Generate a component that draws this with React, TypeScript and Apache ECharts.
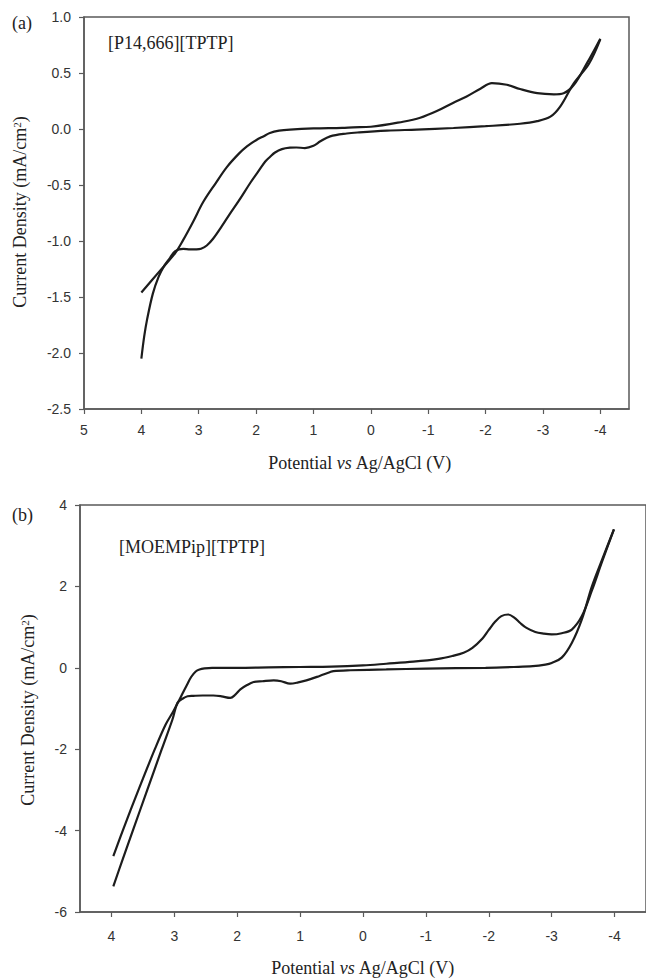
import React, { useEffect, useRef } from "react";
import * as echarts from "echarts";

// ---- Panel (a) [P14,666][TPTP] ----
const aForwardPotential = [4.0, 3.7, 3.41, 3.27, 3.1, 2.92, 2.7, 2.51, 2.3, 2.16, 2.0, 1.85, 1.76, 1.6, 1.41, 1.0, 0.5, 0.31, 0.0, -0.56, -0.86, -1.15, -1.44, -1.67, -1.91, -2.11, -2.37, -2.6, -2.9, -3.19, -3.36, -3.54, -3.77, -4.0];
const aForwardCurrent = [-1.46, -1.28, -1.107, -0.99, -0.83, -0.65, -0.48, -0.34, -0.22, -0.155, -0.1, -0.06, -0.035, -0.015, -0.005, 0.005, 0.01, 0.015, 0.02, 0.065, 0.1, 0.16, 0.235, 0.29, 0.36, 0.41, 0.395, 0.357, 0.32, 0.31, 0.32, 0.395, 0.59, 0.806];

const aReversePotential = [-4.0, -3.8, -3.54, -3.3, -3.13, -2.9, -2.6, -2.0, -1.44, -0.8, -0.28, 0.2, 0.42, 0.71, 0.88, 1.0, 1.15, 1.3, 1.41, 1.55, 1.67, 1.76, 1.84, 1.95, 2.1, 2.3, 2.46, 2.6, 2.75, 2.86, 2.96, 3.04, 3.15, 3.27, 3.41, 3.5, 3.6, 3.7, 3.8, 3.9, 3.95, 4.0];
const aReverseCurrent = [0.8, 0.58, 0.41, 0.2, 0.11, 0.07, 0.047, 0.025, 0.009, -0.005, -0.015, -0.03, -0.04, -0.066, -0.11, -0.15, -0.17, -0.165, -0.167, -0.18, -0.21, -0.25, -0.29, -0.37, -0.48, -0.64, -0.76, -0.87, -0.98, -1.04, -1.07, -1.075, -1.075, -1.07, -1.09, -1.15, -1.22, -1.32, -1.47, -1.7, -1.85, -2.05];

// ---- Panel (b) [MOEMPip][TPTP] ----
const bForwardPotential = [3.97, 3.82, 3.57, 3.31, 3.14, 3.02, 2.95, 2.88, 2.8, 2.73, 2.66, 2.6, 2.52, 2.4, 2.0, 1.5, 1.0, 0.5, 0.0, -0.37, -0.8, -1.2, -1.42, -1.6, -1.74, -1.9, -2.0, -2.1, -2.2, -2.31, -2.4, -2.5, -2.6, -2.74, -2.87, -3.0, -3.16, -3.32, -3.48, -3.64, -3.8, -3.99];
const bForwardCurrent = [-4.63, -4.0, -3.0, -2.0, -1.4, -1.08, -0.88, -0.66, -0.42, -0.22, -0.09, -0.04, -0.015, 0.0, 0.0, 0.01, 0.02, 0.03, 0.06, 0.1, 0.15, 0.22, 0.29, 0.37, 0.49, 0.72, 0.93, 1.13, 1.27, 1.31, 1.24, 1.1, 0.98, 0.88, 0.84, 0.82, 0.85, 0.94, 1.27, 1.9, 2.6, 3.4];

const bReversePotential = [-3.99, -3.8, -3.64, -3.48, -3.32, -3.16, -3.0, -2.9, -2.7, -2.4, -1.95, -1.0, -0.37, 0.2, 0.47, 0.53, 0.69, 0.9, 1.03, 1.16, 1.3, 1.42, 1.6, 1.74, 1.85, 1.95, 2.03, 2.11, 2.25, 2.38, 2.55, 2.7, 2.79, 2.87, 2.95, 3.03, 3.2, 3.43, 3.66, 3.82, 3.97];
const bReverseCurrent = [3.4, 2.65, 2.0, 1.19, 0.61, 0.25, 0.12, 0.08, 0.04, 0.02, 0.0, -0.02, -0.04, -0.06, -0.08, -0.11, -0.2, -0.31, -0.36, -0.39, -0.33, -0.31, -0.33, -0.35, -0.43, -0.53, -0.66, -0.74, -0.7, -0.68, -0.68, -0.69, -0.7, -0.76, -0.86, -1.27, -2.0, -3.0, -4.0, -4.7, -5.37];

const aTickValues = [5, 4, 3, 2, 1, 0, -1, -2, -3, -4];
const bTickValues = [4, 3, 2, 1, 0, -1, -2, -3, -4];

const zip = (xs: number[], ys: number[]) => xs.map((x, i) => [x, ys[i]]);

const AXIS_COLOR = "#5a5a5a";
const LINE_COLOR = "#1c1c1c";
const SANS = "'Liberation Sans', Arial, sans-serif";
const SERIF = "'Liberation Serif', 'Times New Roman', serif";

export default function App() {
  const ref = useRef<HTMLDivElement>(null);

  useEffect(() => {
    if (!ref.current) return;
    const chart = echarts.init(ref.current, null, { renderer: "svg" });

    const axisCommon = {
      type: "value" as const,
      splitLine: { show: false },
      axisLine: { show: true, onZero: false, lineStyle: { color: AXIS_COLOR, width: 1.5 } },
      axisTick: { show: true, inside: false, length: 5, lineStyle: { color: AXIS_COLOR, width: 1.2 } },
    };
    const labelCommon = { color: "#333", fontFamily: SANS, fontSize: 14 };

    const lineSeries = (data: number[][], xi: number) => ({
      type: "line" as const,
      xAxisIndex: xi,
      yAxisIndex: xi,
      data,
      showSymbol: false,
      smooth: 0.35,
      lineStyle: { color: LINE_COLOR, width: 2.2 },
      silent: true,
    });

    const yTitle = (x: number, y: number) => ({
      type: "text",
      x,
      y,
      rotation: Math.PI / 2,
      style: {
        text: "Current Density (mA/cm{sup|2})",
        fontFamily: SERIF,
        fontSize: 18,
        fill: "#222",
        align: "center",
        verticalAlign: "middle",
        rich: {
          sup: { fontSize: 11, fontFamily: SERIF, fill: "#222", verticalAlign: "top", padding: [0, 0, 6, 0] },
        },
      },
    });

    const xTitle = (x: number, y: number) => ({
      type: "text",
      x,
      y,
      style: {
        text: "Potential {i|vs} Ag/AgCl (V)",
        fontFamily: SERIF,
        fontSize: 18,
        fill: "#222",
        align: "center",
        verticalAlign: "middle",
        rich: { i: { fontStyle: "italic", fontFamily: SERIF, fontSize: 18, fill: "#222" } },
      },
    });

    const plainText = (x: number, y: number, text: string) => ({
      type: "text",
      x,
      y,
      style: { text, fontFamily: SERIF, fontSize: 18, fill: "#222", align: "left", verticalAlign: "middle" },
    });

    chart.setOption({
      animation: false,
      backgroundColor: "#fff",
      grid: [
        { left: 84, top: 17, width: 545, height: 392, show: true, borderColor: AXIS_COLOR, borderWidth: 1.5, backgroundColor: "transparent", containLabel: false },
        { left: 80, top: 505, width: 567, height: 407, show: true, borderColor: AXIS_COLOR, borderWidth: 1.5, backgroundColor: "transparent", containLabel: false },
      ],
      xAxis: [
        {
          ...axisCommon,
          gridIndex: 0,
          min: -4.5,
          max: 5,
          inverse: true,
          axisLabel: { ...labelCommon, margin: 14, customValues: aTickValues },
          axisTick: { ...axisCommon.axisTick, customValues: aTickValues },
        },
        {
          ...axisCommon,
          gridIndex: 1,
          min: -4.5,
          max: 4.5,
          inverse: true,
          axisLabel: { ...labelCommon, margin: 17, customValues: bTickValues },
          axisTick: { ...axisCommon.axisTick, customValues: bTickValues },
        },
      ],
      yAxis: [
        {
          ...axisCommon,
          gridIndex: 0,
          min: -2.5,
          max: 1,
          interval: 0.5,
          axisLabel: { ...labelCommon, margin: 13, formatter: (v: number) => v.toFixed(1) },
        },
        {
          ...axisCommon,
          gridIndex: 1,
          min: -6,
          max: 4,
          interval: 2,
          axisLabel: { ...labelCommon, margin: 13 },
        },
      ],
      series: [
        lineSeries(zip(aForwardPotential, aForwardCurrent), 0),
        lineSeries(zip(aReversePotential, aReverseCurrent), 0),
        lineSeries(zip(bForwardPotential, bForwardCurrent), 1),
        lineSeries(zip(bReversePotential, bReverseCurrent), 1),
      ],
      graphic: [
        plainText(12, 23, "(a)"),
        plainText(108, 43, "[P14,666][TPTP]"),
        yTitle(20, 212),
        xTitle(360, 463),
        plainText(12, 515, "(b)"),
        plainText(119, 547, "[MOEMPip][TPTP]"),
        yTitle(28, 710),
        xTitle(363, 968),
      ],
    });

    return () => chart.dispose();
  }, []);

  return (
    <div
      ref={ref}
      style={{ position: "absolute", left: 0, top: 0, width: 646, height: 979, background: "#fff" }}
    />
  );
}
